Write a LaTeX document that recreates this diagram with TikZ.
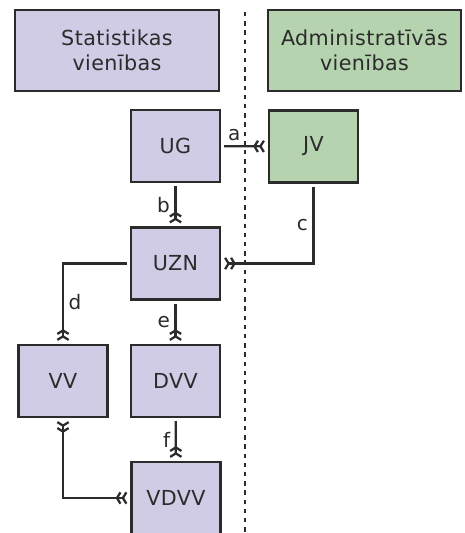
\documentclass[tikz,border=0pt]{standalone}
\usepackage{fontspec}
\setmainfont{DejaVu Sans}[LetterSpace=2]
\usetikzlibrary{arrows.meta}
\definecolor{statfill}{HTML}{D0CCE6}
\definecolor{admfill}{HTML}{B5D3AE}
\definecolor{ink}{HTML}{2B2B2B}
\tikzset{many/.tip={Straight Barb[reversed,length=2.6pt,width=8.5pt]Straight Barb[reversed,length=2.6pt,width=8.5pt]}}
\begin{document}
\begin{tikzpicture}[x=0.75pt,y=-0.75pt,
  unit/.style={draw=ink,line width=2pt,fill=statfill,minimum width=66.75pt,minimum height=54pt,
    text=ink,font=\fontsize{15.5}{18.5}\selectfont,outer sep=3pt},
  adm/.style={unit,fill=admfill},
  head/.style={unit,minimum height=60.75pt,align=center},
  link/.style={draw=ink,line width=1.7pt},
  lbl/.style={text=ink,font=\fontsize{15}{17}\selectfont}]
\useasboundingbox (0,0) rectangle (465,533);
% headers and border between the two sides
\node[head,minimum width=153pt] (stat) at (117,50.5) {Statistikas\\vienības};
\node[head,fill=admfill,minimum width=144.75pt] (admin) at (364.5,50.5) {Administratīvās\\vienības};
\draw[ink,line width=2.1pt,dash pattern=on 3.3pt off 3.6pt] (245,12) -- (245,533);
% units
\node[unit] (ug) at (175.5,146) {UG};
\node[adm] (jv) at (313.5,146.5) {JV};
\node[unit] (uzn) at (175.5,263.5) {UZN};
\node[unit] (vv) at (63,381) {VV};
\node[unit] (dvv) at (175.5,381) {DVV};
\node[unit] (vdvv) at (176,498) {VDVV};
% links
\draw[link,-many] (ug) -- (jv) node[lbl,pos=0.25,above] {a};
\draw[link,-many] (ug) -- (uzn) node[lbl,midway,left] {b};
\draw[link,-many] (jv) |- (uzn) node[lbl,pos=0.25,left] {c};
\draw[link,-many] (uzn) -| (vv) node[lbl,pos=0.75,right] {d};
\draw[link,-many] (uzn) -- (dvv) node[lbl,midway,left] {e};
\draw[link,-many] (dvv) -- (vdvv) node[lbl,midway,left] {f};
\draw[link,many-many] (vv) |- (vdvv);
\end{tikzpicture}
\end{document}
